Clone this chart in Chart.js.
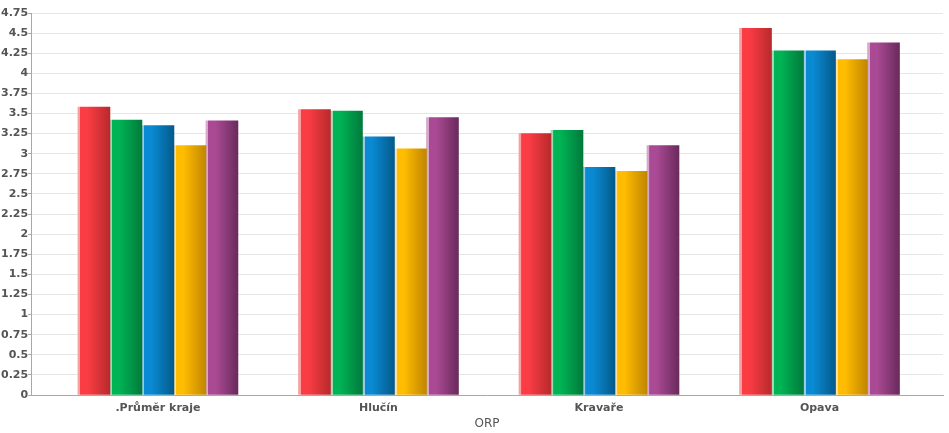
<!DOCTYPE html>
<html>
<head>
<meta charset="utf-8">
<script src="https://cdn.jsdelivr.net/npm/chart.js@4"></script>
<style>
    html, body { margin: 0; padding: 0; background: #fff; }
    #wrap { width: 949px; height: 433px; }
</style>
</head>
<body>
<div id="wrap"><canvas id="chart"></canvas></div>
<script>
// Data
const categories = ['.Průměr kraje', 'Hlučín', 'Kravaře', 'Opava'];
const seriesA = [3.58, 3.55, 3.25, 4.56];
const seriesB = [3.42, 3.53, 3.29, 4.28];
const seriesC = [3.35, 3.21, 2.83, 4.28];
const seriesD = [3.10, 3.06, 2.78, 4.17];
const seriesE = [3.41, 3.45, 3.10, 4.38];
const yTicks = [0, 0.25, 0.5, 0.75, 1, 1.25, 1.5, 1.75, 2, 2.25, 2.5, 2.75, 3, 3.25, 3.5, 3.75, 4, 4.25, 4.5, 4.75];

// light edge, bright, dark
const shades = [
    ['#f7a0a0', '#fa3c44', '#b82a2c'],
    ['#9fd8b4', '#00b354', '#007a3c'],
    ['#9cc8e8', '#0a8ad2', '#045a8c'],
    ['#ffe0a0', '#ffbc00', '#c08600'],
    ['#d8a8cc', '#aa4a94', '#6a2a5c']
];

const BAR = 32;
const allSeries = [seriesA, seriesB, seriesC, seriesD, seriesE];

function barFill(ctx) {
    const chart = ctx.chart;
    const s = shades[ctx.datasetIndex];
    const x = chart.scales && chart.scales.x;
    if (!x || ctx.type !== 'data') return s[1];
    const n = allSeries.length;
    const center = x.getPixelForValue(ctx.dataIndex) + (ctx.datasetIndex - (n - 1) / 2) * BAR;
    if (!isFinite(center)) return s[1];
    const left = center - BAR / 2;
    const g = chart.ctx.createLinearGradient(left, 0, left + BAR, 0);
    g.addColorStop(0, s[0]);
    g.addColorStop(0.07, s[0]);
    g.addColorStop(0.08, s[1]);
    g.addColorStop(0.3, s[1]);
    g.addColorStop(1, s[2]);
    return g;
}

const datasets = allSeries.map((vals, i) => ({
    data: vals.map((v, j) => ({ x: j, y: v })),
    backgroundColor: barFill,
    borderWidth: 0,
    barThickness: BAR
}));

new Chart(document.getElementById('chart'), {
    type: 'bar',
    data: { datasets: datasets },
    options: {
        responsive: true,
        maintainAspectRatio: false,
        animation: false,
        layout: { padding: { top: 13, right: 6, left: 1, bottom: 3 } },
        plugins: {
            legend: { display: false },
            tooltip: { enabled: false }
        },
        scales: {
            x: {
                type: 'linear',
                offset: false,
                min: -0.575,
                max: 3.56,
                afterBuildTicks: (scale) => {
                    scale.ticks = categories.map((c, i) => ({ value: i }));
                },
                ticks: {
                    callback: (v) => categories[v],
                    color: '#555',
                    font: { family: 'DejaVu Sans', size: 11, weight: 'bold', lineHeight: 1 },
                    padding: 8,
                    maxRotation: 0
                },
                grid: { display: false, drawTicks: false, offset: false },
                border: { color: '#a8a8a8', width: 1 },
                title: {
                    display: true,
                    text: 'ORP',
                    color: '#555',
                    font: { family: 'DejaVu Sans', size: 12, lineHeight: 1 },
                    padding: { top: -4, bottom: 0 }
                }
            },
            y: {
                min: 0,
                max: 4.75,
                afterBuildTicks: (scale) => {
                    scale.ticks = yTicks.map(v => ({ value: v }));
                },
                ticks: {
                    color: '#555',
                    font: { family: 'DejaVu Sans', size: 11, weight: 'bold' },
                    padding: 0,
                    callback: (v) => String(v)
                },
                grid: {
                    color: '#e6e6e6',
                    tickColor: '#a8a8a8',
                    tickLength: 3
                },
                border: { color: '#a8a8a8', width: 1 }
            }
        }
    }
});
</script>
</body>
</html>
